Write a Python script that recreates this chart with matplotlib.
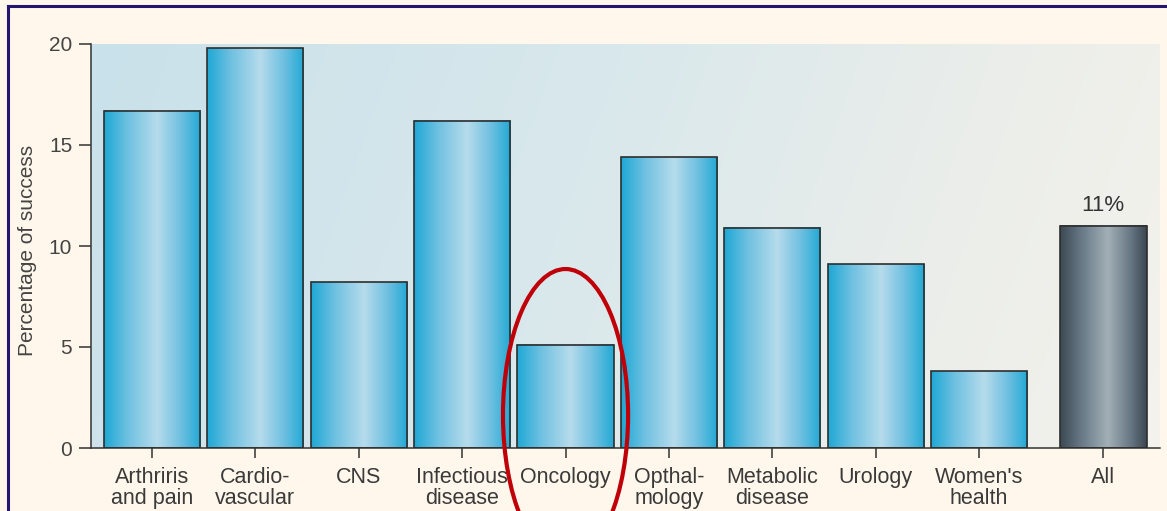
import matplotlib
matplotlib.use("Agg")
import matplotlib.pyplot as plt
import numpy as np
from matplotlib.colors import LinearSegmentedColormap
from matplotlib.patches import Ellipse
from matplotlib.lines import Line2D

categories = ["Arthriris\nand pain", "Cardio-\nvascular", "CNS", "Infectious\ndisease",
              "Oncology", "Opthal-\nmology", "Metabolic\ndisease", "Urology",
              "Women's\nhealth", "All"]
success = [16.7, 19.8, 8.2, 16.2, 5.1, 14.4, 10.9, 9.1, 3.8, 11.0]
positions = [0, 1, 2, 3, 4, 5, 6, 7, 8, 9.2]
all_label = "11%"

plt.rcParams["font.family"] = ["Liberation Sans", "DejaVu Sans"]

blue_cmap = LinearSegmentedColormap.from_list(
    "bar_blue", [(0, "#1ea8d5"), (0.25, "#70c1e1"), (0.55, "#b6dcec"),
                 (0.8, "#6cbfe0"), (1, "#22a9d5")])
grey_cmap = LinearSegmentedColormap.from_list(
    "bar_grey", [(0, "#3b4954"), (0.3, "#728390"), (0.55, "#a2b0b6"),
                 (0.8, "#6a7a86"), (1, "#3b4853")])
bg_cmap = LinearSegmentedColormap.from_list(
    "bg", [(0, "#c9e1ea"), (0.45, "#d9e8ec"), (0.8, "#eceeea"), (1, "#f3f2ec")])

fig = plt.figure(figsize=(11.67, 5.11), dpi=100, facecolor="#fff7eb")
ax = fig.add_axes([91 / 1167, 1 - 448 / 511, 1069 / 1167, 404 / 511])

# background gradient (slightly diagonal)
gx, gy = np.meshgrid(np.linspace(0, 1, 300), np.linspace(0, 1, 100))
bg = np.clip(0.9 * gx + 0.12 * (1 - gy), 0, 1)
ax.imshow(bg, extent=[0, 1, 0, 1], transform=ax.transAxes, cmap=bg_cmap,
          aspect="auto", origin="lower", zorder=0)

widths = [0.93] * 9 + [0.84]
bars = ax.bar(positions, success, width=widths, facecolor="none",
              edgecolor="#2e2e2e", linewidth=1.2, zorder=3)

grad = np.linspace(0, 1, 256).reshape(1, -1)
for i, b in enumerate(bars):
    cmap = grey_cmap if categories[i] == "All" else blue_cmap
    ax.imshow(grad, extent=[b.get_x(), b.get_x() + b.get_width(), 0, b.get_height()],
              cmap=cmap, aspect="auto", zorder=2)

last = bars[-1]
ax.text(last.get_x() + last.get_width() / 2, last.get_height() + 0.5, all_label,
        ha="center", va="bottom", fontsize=16, color="#333333")

ax.set_xlim(-0.59, 9.75)
ax.set_ylim(0, 20)
ax.set_xticks(positions)
ax.set_xticklabels(categories, fontsize=15.5, color="#3a3a3a", linespacing=0.95)
ax.set_yticks([0, 5, 10, 15, 20])
ax.tick_params(axis="y", direction="out", length=8.5, width=1.1, color="#333333",
               labelsize=15, labelcolor="#444444", pad=5)
ax.tick_params(axis="x", direction="out", length=7, width=1.1, color="#333333", pad=7)
ax.set_ylabel("Percentage of success", fontsize=15, color="#444444")
ax.yaxis.set_label_coords(-0.0505, 0.49)

for s in ["top", "right"]:
    ax.spines[s].set_visible(False)
for s in ["left", "bottom"]:
    ax.spines[s].set_color("#333333")
    ax.spines[s].set_linewidth(1.1)

# red ellipse around oncology
ell = Ellipse((4.0, 1.63), width=1.21, height=14.46, fill=False,
              edgecolor="#c00008", linewidth=3, clip_on=False, zorder=6)
ax.add_patch(ell)

# frame lines left and top
fig.add_artist(Line2D([8 / 1167, 8 / 1167], [0, 1 - 6 / 511], color="#22166e",
                      linewidth=2.2, transform=fig.transFigure))
fig.add_artist(Line2D([8 / 1167, 1], [1 - 6 / 511, 1 - 6 / 511], color="#22166e",
                      linewidth=2.2, transform=fig.transFigure))

fig.savefig("out.png", dpi=100, facecolor=fig.get_facecolor())
